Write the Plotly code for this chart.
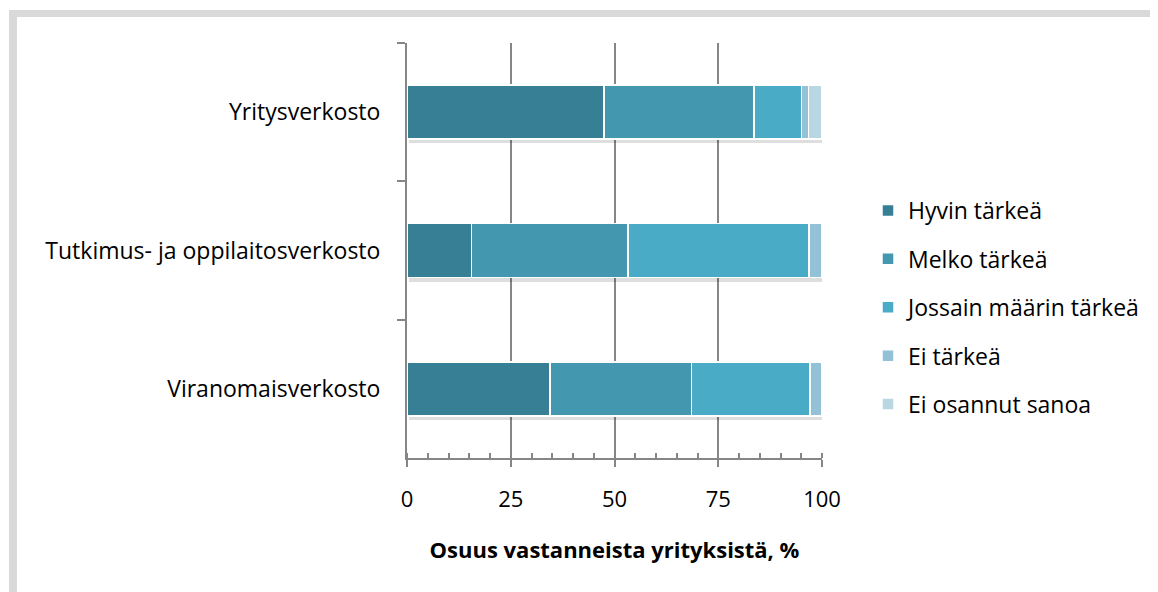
import plotly.graph_objects as go

categories = ["Yritysverkosto", "Tutkimus- ja oppilaitosverkosto", "Viranomaisverkosto"]
series_names = ["Hyvin tärkeä", "Melko tärkeä", "Jossain määrin tärkeä", "Ei tärkeä", "Ei osannut sanoa"]
hyvin = [47.5, 15.5, 34.4]
melko = [36.1, 37.8, 34.1]
jossain = [11.5, 43.6, 28.6]
ei = [1.6, 3.1, 2.9]
ei_osannut = [3.3, 0.0, 0.0]
colors = ["#377f94", "#4397ae", "#4aabc6", "#93c2d6", "#b9d6e3"]

# page body has an 8px default margin, so work in figure pixels
OFF = 8
W, H = 1158 - OFF, 592 - OFF
L, R, T, B = 407 - OFF, 822 - OFF, 43 - OFF, 458 - OFF
font = "Open Sans"
bar_w = 0.39

fig = go.Figure()

# soft drop shadow under each bar (drawn on the bottom axis layer)
totals = [sum(v) for v in zip(hyvin, melko, jossain, ei, ei_osannut)]
fig.add_bar(
    y=categories, x=totals, orientation="h", base=0.4, width=bar_w,
    offset=-bar_w / 2 + 0.03, marker=dict(color="rgba(0,0,0,0.13)", line_width=0),
    showlegend=False, hoverinfo="skip", yaxis="y",
)
for i, (name, vals) in enumerate(zip(series_names, [hyvin, melko, jossain, ei, ei_osannut])):
    fig.add_bar(
        y=categories, x=vals, name=name, orientation="h",
        marker=dict(color=colors[i], line=dict(color="white", width=1.5)),
        width=bar_w, legendgroup=f"g{i}", yaxis="y2",
    )


def px(x):
    return (x - OFF - L) / (R - L)


def py(y):
    return 1 - (y - OFF - T) / (B - T)


# light gray frame (top and left edges)
frame = "#d9d9d9"
fig.add_shape(type="rect", xref="paper", yref="paper", x0=px(9), x1=px(1158), y0=py(10), y1=py(17),
              fillcolor=frame, line_width=0, layer="below")
fig.add_shape(type="rect", xref="paper", yref="paper", x0=px(9), x1=px(17), y0=py(10), y1=py(600),
              fillcolor=frame, line_width=0, layer="below")

axis_col = "#868686"
fig.update_layout(
    barmode="stack",
    width=W, height=H,
    margin=dict(l=L, r=W - R, t=T, b=H - B, pad=0, autoexpand=False),
    paper_bgcolor="white", plot_bgcolor="white",
    font=dict(family=font, size=23, color="#000000"),
    legend=dict(x=px(868), y=py(189), xanchor="left", yanchor="top",
                tracegroupgap=15.5, font=dict(size=23), itemwidth=30),
    xaxis=dict(
        range=[0, 100], dtick=25, showgrid=True, gridcolor=axis_col, gridwidth=2,
        showline=True, linecolor=axis_col, linewidth=2, zeroline=False, automargin=False,
        ticks="outside", ticklen=7, tickwidth=2, tickcolor=axis_col,
        minor=dict(ticks="inside", dtick=5, ticklen=5, tickwidth=1.5, tickcolor=axis_col, showgrid=False),
        ticklabelstandoff=14, tickfont=dict(size=22),
        title=dict(text="<b>Osuus vastanneista yrityksistä, %</b>", standoff=30, font=dict(size=22)),
    ),
    yaxis=dict(
        autorange="reversed", showline=True, linecolor=axis_col, linewidth=2, automargin=False,
        ticks="outside", tickson="boundaries", ticklen=8, tickwidth=2, tickcolor=axis_col,
        showgrid=False, ticklabelstandoff=20,
    ),
    yaxis2=dict(
        overlaying="y", matches="y", autorange="reversed", visible=False, automargin=False,
    ),
)

fig.write_html("out.html")
